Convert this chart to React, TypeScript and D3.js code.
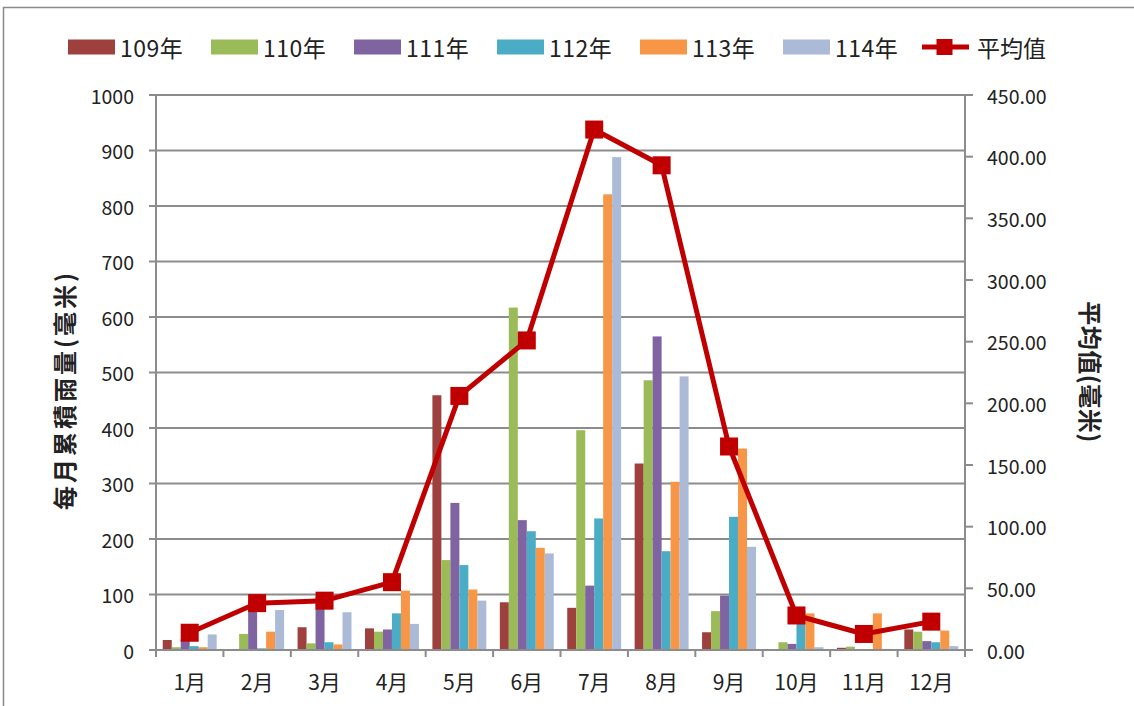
import { scaleBand, scaleLinear, line } from 'd3'

const months = ['1月', '2月', '3月', '4月', '5月', '6月', '7月', '8月', '9月', '10月', '11月', '12月']
const years = ['109年', '110年', '111年', '112年', '113年', '114年']
const yearColors = ['#9E413E', '#9BBB59', '#8064A2', '#4BACC6', '#F79646', '#AABAD7']

// monthly rainfall per year (mm)
const rain109 = [18, 0, 41, 39, 459, 86, 76, 336, 32, 0, 4, 37]
const rain110 = [5, 29, 12, 33, 162, 617, 396, 486, 70, 14, 6, 33]
const rain111 = [20, 90, 95, 37, 265, 234, 116, 565, 98, 11, 0, 16]
const rain112 = [7, 3, 14, 66, 153, 214, 237, 178, 240, 70, 0, 14]
const rain113 = [5, 33, 10, 107, 109, 184, 821, 303, 363, 66, 66, 35]
const rain114 = [28, 72, 68, 47, 89, 174, 888, 493, 186, 5, 2, 7]
const series = [rain109, rain110, rain111, rain112, rain113, rain114]

// average line (right axis)
const average = [14, 38, 40, 55, 206, 251, 422, 393, 165, 28, 13, 23]
const avgLabel = '平均值'

const leftTicks = [0, 100, 200, 300, 400, 500, 600, 700, 800, 900, 1000]
const rightTicks = [0, 50, 100, 150, 200, 250, 300, 350, 400, 450]

const W = 1134
const H = 706
const plot = { left: 156, right: 965, top: 95, bottom: 650 }
const font = '"Noto Sans CJK TC", "Noto Sans", sans-serif'
const gridColor = '#8C8C8C'
const textColor = '#222'
const avgColor = '#C00000'

export default function App() {
  const x = scaleBand<string>().domain(months).range([plot.left, plot.right]).padding(0)
  // Excel-like gap width of 150%
  const xInner = scaleBand<string>().domain(years).range([0, x.bandwidth()]).paddingInner(0).paddingOuter(0.75)
  const yLeft = scaleLinear().domain([0, 1000]).range([plot.bottom, plot.top])
  const yRight = scaleLinear().domain([0, 450]).range([plot.bottom, plot.top])

  const avgLine = line<number>()
    .x((_, i) => x(months[i])! + x.bandwidth() / 2)
    .y((d) => yRight(d))

  const boundaries = months.map((m) => x(m)!).concat([plot.right])

  const legendItems = years.map((y, i) => ({ label: y, color: yearColors[i] }))

  return (
    <svg
      width={W}
      height={H}
      style={{ position: 'absolute', left: 0, top: 0, background: '#fff' }}
      fontFamily={font}
    >
      {/* chart frame */}
      <rect x={3.5} y={7.5} width={W + 20} height={H + 20} fill="#fff" stroke="#8A8A8A" strokeWidth={1.5} />

      {/* gridlines */}
      {leftTicks.map((t) => (
        <line key={'g' + t} x1={plot.left} x2={plot.right} y1={yLeft(t)} y2={yLeft(t)} stroke={gridColor} strokeWidth={2} />
      ))}

      {/* bars */}
      {series.map((vals, si) =>
        vals.map((v, mi) =>
          v > 0 ? (
            <rect
              key={`b${si}-${mi}`}
              x={x(months[mi])! + xInner(years[si])!}
              y={yLeft(v)}
              width={xInner.bandwidth()}
              height={plot.bottom - yLeft(v)}
              fill={yearColors[si]}
            />
          ) : null
        )
      )}

      {/* axes */}
      <line x1={plot.left} x2={plot.left} y1={plot.top} y2={plot.bottom} stroke={gridColor} strokeWidth={2} />
      <line x1={plot.right} x2={plot.right} y1={plot.top} y2={plot.bottom} stroke={gridColor} strokeWidth={2} />
      <line x1={plot.left} x2={plot.right} y1={plot.bottom} y2={plot.bottom} stroke={gridColor} strokeWidth={2} />
      {leftTicks.map((t) => (
        <g key={'lt' + t}>
          <line x1={plot.left - 7} x2={plot.left} y1={yLeft(t)} y2={yLeft(t)} stroke={gridColor} strokeWidth={2} />
          <text x={134} y={yLeft(t)} textAnchor="end" dominantBaseline="central" fontSize={19.5} fill={textColor}>
            {t}
          </text>
        </g>
      ))}
      {rightTicks.map((t) => (
        <g key={'rt' + t}>
          <line x1={plot.right} x2={plot.right + 8} y1={yRight(t)} y2={yRight(t)} stroke={gridColor} strokeWidth={2} />
          <text x={987} y={yRight(t)} textAnchor="start" dominantBaseline="central" fontSize={19.5} fill={textColor}>
            {t.toFixed(2)}
          </text>
        </g>
      ))}
      {boundaries.map((b, i) => (
        <line key={'xt' + i} x1={b} x2={b} y1={plot.bottom} y2={plot.bottom + 7} stroke={gridColor} strokeWidth={2} />
      ))}
      {months.map((m) => (
        <text key={'xl' + m} x={x(m)! + x.bandwidth() / 2} y={690} textAnchor="middle" fontSize={21} fill={textColor}>
          {m}
        </text>
      ))}

      {/* average line */}
      <path d={avgLine(average)!} fill="none" stroke={avgColor} strokeWidth={5} strokeLinejoin="round" />
      {average.map((v, i) => (
        <rect
          key={'m' + i}
          x={x(months[i])! + x.bandwidth() / 2 - 9}
          y={yRight(v) - 9}
          width={18}
          height={18}
          fill={avgColor}
        />
      ))}

      {/* axis titles */}
      <text
        transform="translate(63,390) rotate(-90)"
        textAnchor="middle"
        dominantBaseline="central"
        fontSize={24}
        fontWeight="bold"
        fill={textColor}
        letterSpacing={3}
      >
        每月累積雨量(毫米)
      </text>
      <text
        transform="translate(1091,372) rotate(90)"
        textAnchor="middle"
        dominantBaseline="central"
        fontSize={24}
        fontWeight="bold"
        fill={textColor}
        letterSpacing={0.5}
      >
        平均值(毫米)
      </text>

      {/* legend */}
      {legendItems.map((d, i) => (
        <g key={'lg' + d.label} transform={`translate(${68 + i * 143},47)`}>
          <rect x={0} y={-7.5} width={47} height={15} fill={d.color} />
          <text x={52} y={0} dominantBaseline="central" fontSize={23} fill={textColor} letterSpacing={0.5}>
            {d.label}
          </text>
        </g>
      ))}
      <g transform={`translate(${68 + 6 * 143 - 4},47)`}>
        <line x1={0} x2={47} y1={0} y2={0} stroke={avgColor} strokeWidth={5} />
        <rect x={14.5} y={-8} width={16} height={16} fill={avgColor} />
        <text x={55} y={0} dominantBaseline="central" fontSize={23} fill={textColor}>
          {avgLabel}
        </text>
      </g>
    </svg>
  )
}
